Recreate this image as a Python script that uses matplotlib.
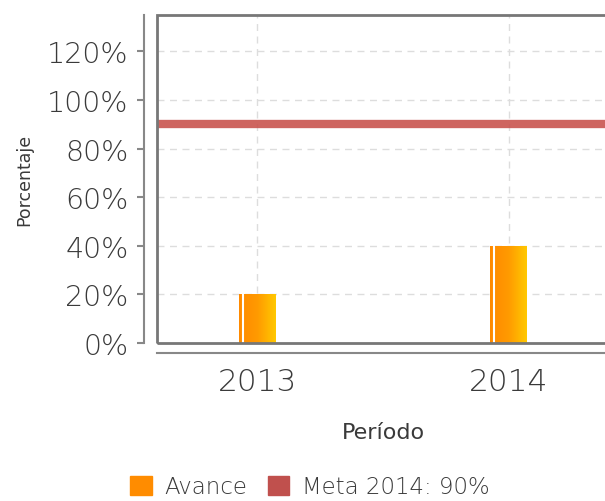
import numpy as np
import matplotlib.pyplot as plt
from matplotlib.patches import Rectangle, Patch
from matplotlib.ticker import PercentFormatter
from matplotlib.colors import LinearSegmentedColormap

# data
periods = ["2013", "2014"]
avance = [20, 40]
meta = 90
meta_label = "Meta 2014: 90%"
yticks = [0, 20, 40, 60, 80, 100, 120]

text_col = "#3a3a3a"
axis_col = "#888888"
plt.rcParams["font.weight"] = "light"

fig = plt.figure(figsize=(6.05, 5.02), dpi=100)
ax = fig.add_axes([157/605, 1-344/502, (609-157)/605, (344-16)/502])

x = np.arange(len(periods))
bar_w = 0.145
ax.set_xlim(-0.4, 1.4)
ax.set_ylim(0, 135)

# gradient bars
grad = np.linspace(0, 1, 64).reshape(1, -1)
cmap = LinearSegmentedColormap.from_list("orng", ["#ff8a00", "#ff9a00", "#ffc800"])
bars = ax.bar(x, avance, width=bar_w, color="none", edgecolor="none", zorder=3)
for b in bars:
    x0, y0, w, h = b.get_x(), b.get_y(), b.get_width(), b.get_height()
    im = ax.imshow(grad, cmap=cmap, aspect="auto", extent=(x0, x0 + w, y0, y0 + h), zorder=3)
    im.set_clip_path(b)
    ax.plot([x0 + w*0.09, x0 + w*0.09], [y0, y0 + h], color="white", lw=1.5, zorder=4)

ax.axhline(meta, color="#c9544f", lw=6, zorder=5, alpha=0.9)

ax.set_xticks(x, periods)
ax.set_yticks(yticks)
ax.yaxis.set_major_formatter(PercentFormatter(decimals=0))
ax.grid(True, color="#dddddd", linestyle=(0, (5, 4)), lw=1)
ax.set_axisbelow(True)

for s in ["top", "right"]:
    ax.spines[s].set_visible(False)
ax.spines["left"].set_position(("outward", 9.4))
ax.spines["bottom"].set_position(("outward", 7.2))
for s in ["left", "bottom"]:
    ax.spines[s].set_color(axis_col)
    ax.spines[s].set_linewidth(1.5)
ax.add_patch(Rectangle((0, 0), 1, 1, transform=ax.transAxes, fill=False,
                       edgecolor="#777777", lw=2, zorder=6, clip_on=False))

ax.tick_params(axis="y", colors=axis_col, labelcolor=text_col, labelsize=20.5,
               length=5, width=1.5, pad=6)
ax.tick_params(axis="x", length=0, labelcolor=text_col, labelsize=22.5, pad=10)

ax.set_ylabel("Porcentaje", fontsize=12.5, color=text_col, labelpad=10)
ax.set_xlabel("Período", fontsize=16, color=text_col, labelpad=19)

handles = [Patch(color="#ff8c00", label="Avance"), Patch(color="#c0504d", label=meta_label)]
fig.legend(handles=handles, loc="lower center", bbox_to_anchor=(0.512, -0.036), ncol=2,
           frameon=False, fontsize=16.5, handlelength=0.95, handleheight=0.95,
           columnspacing=0.9, handletextpad=0.55, labelcolor=text_col)

fig.savefig("out.png", dpi=100)
